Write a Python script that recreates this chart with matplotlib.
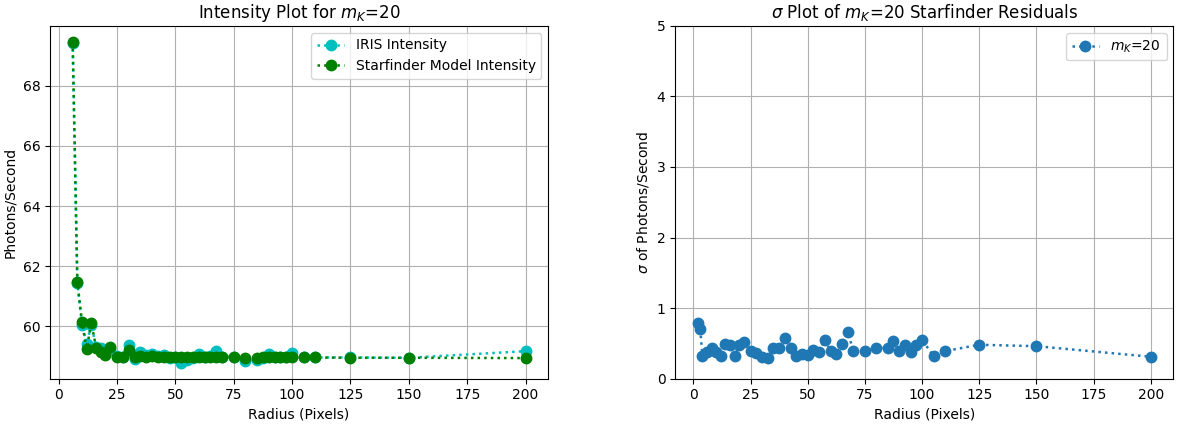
import matplotlib
matplotlib.use("Agg")
import matplotlib.pyplot as plt

# radii (pixels) for the intensity plot
radius = [6, 8, 10, 12, 14, 16, 18, 20, 22, 25, 27.5, 30, 32.5, 35, 37.5, 40,
          42.5, 45, 47.5, 50, 52.5, 55, 57.5, 60, 62.5, 65, 67.5, 70, 75, 80,
          85, 87.5, 90, 92.5, 95, 97.5, 100, 105, 110, 125, 150, 200]

iris_intensity = [69.42, 61.45, 60.05, 59.42, 60.05, 59.33, 59.30, 59.10, 59.25,
                  59.02, 58.98, 59.37, 58.93, 59.15, 59.05, 59.08, 59.02, 59.05,
                  58.95, 58.97, 58.80, 58.87, 58.95, 59.07, 59.00, 59.03, 59.18,
                  59.00, 59.00, 58.84, 58.87, 58.95, 59.08, 59.00, 58.98, 59.00,
                  59.12, 58.97, 58.97, 58.97, 58.96, 59.18]

sf_intensity = [69.45, 61.48, 60.14, 59.25, 60.13, 59.30, 59.15, 59.05, 59.32,
                59.00, 58.99, 59.23, 58.98, 59.02, 59.00, 59.03, 59.00, 59.00,
                58.99, 58.98, 58.98, 58.97, 58.98, 59.00, 58.99, 59.00, 59.00,
                59.00, 59.00, 58.94, 58.96, 58.97, 58.98, 58.98, 58.97, 59.00,
                59.00, 58.97, 58.97, 58.96, 58.96, 58.95]

# radii for the residual sigma plot
sigma_radius = [2, 3, 4, 6, 8, 10, 12, 14, 16, 18, 20, 22, 25, 27.5, 30, 32.5,
                35, 37.5, 40, 42.5, 45, 47.5, 50, 52.5, 55, 57.5, 60, 62.5, 65,
                67.5, 70, 75, 80, 85, 87.5, 90, 92.5, 95, 97.5, 100, 105, 110,
                125, 150, 200]

sigma = [0.79, 0.71, 0.32, 0.38, 0.43, 0.38, 0.32, 0.49, 0.48, 0.32, 0.47, 0.52,
         0.39, 0.36, 0.31, 0.29, 0.44, 0.43, 0.58, 0.43, 0.32, 0.35, 0.33, 0.40,
         0.38, 0.55, 0.39, 0.35, 0.49, 0.66, 0.39, 0.39, 0.43, 0.44, 0.53, 0.39,
         0.47, 0.38, 0.48, 0.55, 0.32, 0.39, 0.48, 0.46, 0.31]

plt.rcParams['font.size'] = 10

fig, (ax1, ax2) = plt.subplots(1, 2, figsize=(11.77, 4.24), dpi=100)
fig.subplots_adjust(left=0.0425, right=0.997, bottom=0.107, top=0.939, wspace=0.255)

# Intensity plot
ax1.plot(radius, iris_intensity, 'c:o', label='IRIS Intensity', markersize=7.5, linewidth=1.8)
ax1.plot(radius, sf_intensity, 'g:o', label='Starfinder Model Intensity', markersize=7.5, linewidth=1.8)
ax1.set_title('Intensity Plot for $m_K$=20', fontsize=12)
ax1.set_xlabel('Radius (Pixels)')
ax1.set_ylabel('Photons/Second')
ax1.legend(loc='upper right')
ax1.grid(True)

# Sigma plot
ax2.plot(sigma_radius, sigma, ':o', color='tab:blue', label='$m_K$=20', markersize=7.5, linewidth=1.8)
ax2.set_title('$\\sigma$ Plot of $m_K$=20 Starfinder Residuals', fontsize=12)
ax2.set_xlabel('Radius (Pixels)')
ax2.set_ylabel('$\\sigma$ of Photons/Second')
ax2.set_ylim(0, 5)
ax2.legend(loc='upper right')
ax2.grid(True)

fig.savefig('out.png', dpi=100)
